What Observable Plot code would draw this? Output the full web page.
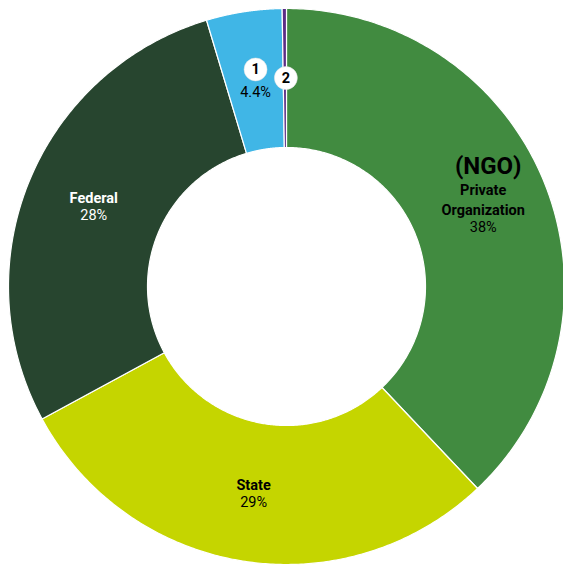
<!DOCTYPE html>
<html><head><meta charset="utf-8">
<script src="https://cdn.jsdelivr.net/npm/d3@7"></script>
<script src="https://cdn.jsdelivr.net/npm/@observablehq/plot@0.6"></script>
<style>
html,body{margin:0;padding:0;background:#fff;}
svg{display:block;font-family:Roboto, "Noto Sans", sans-serif;}
</style>
</head><body>
<div id="chart"></div>
<script>
const categories = ["Private Organization", "State", "Federal", "1", "2"];
const values = [38.0, 29.2, 28.3, 4.4, 0.25];
const pctLabels = ["38%", "29%", "28%", "4.4%", ""];
const colors = ["#418b40", "#c5d500", "#27452f", "#40b6e6", "#5b2d86"];

const R = 278, r0 = 139;
const rows = categories.map((c, i) => ({cat: c, value: values[i], pct: pctLabels[i]}));
const arcs = d3.pie().sort(null).value(d => d.value)(rows);

const poly = [];
arcs.forEach(a => {
  const n = 200, pts = [];
  for (let k = 0; k <= n; k++) { const t = a.startAngle + (a.endAngle - a.startAngle) * k / n; pts.push([R * Math.sin(t), R * Math.cos(t)]); }
  for (let k = n; k >= 0; k--) { const t = a.startAngle + (a.endAngle - a.startAngle) * k / n; pts.push([r0 * Math.sin(t), r0 * Math.cos(t)]); }
  pts.push(pts[0]);
  pts.forEach(p => poly.push({cat: a.data.cat, x: p[0], y: p[1]}));
});

const cent = {};
arcs.forEach(a => { const m = (a.startAngle + a.endAngle) / 2, rr = (R + r0) / 2; cent[a.data.cat] = {cat: a.data.cat, pct: a.data.pct, x: rr * Math.sin(m), y: rr * Math.cos(m)}; });

const P = cent["Private Organization"], S = cent["State"], F = cent["Federal"], B1 = cent["1"], B2 = cent["2"];
const font = "Roboto, 'Noto Sans', sans-serif";
const fs = 14.5;

const chart = Plot.plot({
  width: 563, height: 568,
  margin: 0,
  x: {domain: [-286, 277], axis: null},
  y: {domain: [-282, 286], axis: null},
  color: {domain: categories, range: colors},
  style: {fontFamily: font},
  marks: [
    Plot.line(poly, {x: "x", y: "y", z: "cat", fill: "cat", stroke: "white", strokeWidth: 1.2, curve: "linear"}),
    // Private Organization
    Plot.text([P], {x: "x", y: "y", text: d => "(NGO)", dx: 8, dy: -43, fontSize: 24, fontWeight: "bold", fill: "#000"}),
    Plot.text([P], {x: "x", y: "y", text: d => "Private", dx: 3, dy: -19, fontSize: fs, fontWeight: "bold", fill: "#000"}),
    Plot.text([P], {x: "x", y: "y", text: d => "Organization", dx: 3, dy: 1, fontSize: fs, fontWeight: "bold", fill: "#000"}),
    Plot.text([P], {x: "x", y: "y", text: "pct", dx: 3, dy: 18, fontSize: fs, fill: "#000"}),
    // Federal
    Plot.text([F], {x: "x", y: "y", text: "cat", dy: -9, fontSize: fs, fontWeight: "bold", fill: "#fff"}),
    Plot.text([F], {x: "x", y: "y", text: "pct", dy: 8, fontSize: fs, fill: "#fff"}),
    // State
    Plot.text([S], {x: "x", y: "y", text: "cat", dy: -7, fontSize: fs, fontWeight: "bold", fill: "#000"}),
    Plot.text([S], {x: "x", y: "y", text: "pct", dy: 10, fontSize: fs, fill: "#000"}),
    // badges
    Plot.dot([B1], {x: "x", y: "y", dx: 1, dy: -11, r: 11.5, fill: "#fff", stroke: "#e0e0e0", strokeWidth: 0.5}),
    Plot.text([B1], {x: "x", y: "y", text: "cat", dx: 1, dy: -11, fontSize: fs, fontWeight: "bold", fill: "#000"}),
    Plot.text([B1], {x: "x", y: "y", text: "pct", dx: 1, dy: 12, fontSize: fs, fill: "#000"}),
    Plot.dot([B2], {x: "x", y: "y", dx: 1, r: 11.5, fill: "#fff", stroke: "#e0e0e0", strokeWidth: 0.5}),
    Plot.text([B2], {x: "x", y: "y", text: "cat", dx: 1, fontSize: fs, fontWeight: "bold", fill: "#000"})
  ]
});
document.getElementById("chart").append(chart);
</script>
</body></html>
